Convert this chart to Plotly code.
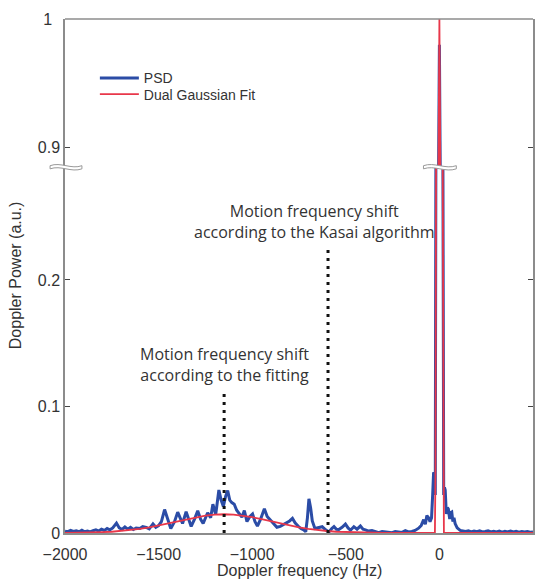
import plotly.graph_objects as go

# ---------------- data ----------------
psd_freq = [-2000, -1985, -1970, -1955, -1940, -1925, -1910, -1895, -1880, -1865, -1850, -1835, -1820,
            -1805, -1790, -1775, -1760, -1745, -1725, -1710, -1695, -1680, -1665, -1650, -1635, -1620,
            -1600, -1585, -1566, -1550, -1530, -1515, -1500, -1485, -1468, -1452, -1435, -1415, -1398,
            -1385, -1372, -1353, -1340, -1326, -1308, -1291, -1276, -1262, -1238, -1222, -1210, -1195,
            -1178, -1166, -1154, -1142, -1131, -1120, -1109, -1096, -1083, -1069, -1055, -1042, -1028,
            -1012, -998, -985, -972, -955, -935, -920, -905, -885, -868, -850, -835, -820, -800, -785,
            -770, -755, -740, -725, -714, -705, -697, -688, -679, -665, -645, -626, -608, -590, -575,
            -563, -550, -537, -520, -502, -488, -475, -457, -440, -422, -408, -395, -378, -360, -342,
            -324, -306, -289, -271, -253, -236, -218, -200, -182, -165, -147, -130, -111, -97, -84,
            -75, -67, -58, -50, -42, -36, -31, -26, -22, -19, -5, 0, 5, 19, 23, 27,
            31, 37, 43, 48, 55, 61, 66, 72, 78, 84, 95, 111, 125, 140, 155, 170, 185, 200, 215, 230,
            245, 260, 275, 290, 305, 320, 335, 350, 365, 380, 395, 410, 425, 440, 455, 470, 485, 500]
psd_power = [0.0015, 0.001, 0.002, 0.0012, 0.0018, 0.001, 0.0022, 0.001, 0.0015, 0.0008, 0.0018, 0.0025,
             0.0015, 0.003, 0.002, 0.0035, 0.0025, 0.004, 0.0078, 0.004, 0.0028, 0.0048, 0.003, 0.0045,
             0.0028, 0.004, 0.0036, 0.005, 0.0044, 0.0032, 0.0072, 0.0045, 0.0058, 0.009, 0.0185, 0.011,
             0.0035, 0.009, 0.0165, 0.012, 0.0075, 0.0168, 0.011, 0.0052, 0.011, 0.0175, 0.011, 0.0075,
             0.016, 0.012, 0.0228, 0.0145, 0.034, 0.026, 0.021, 0.029, 0.0335, 0.026, 0.024, 0.0228,
             0.018, 0.0155, 0.0125, 0.0178, 0.009, 0.013, 0.015, 0.009, 0.0055, 0.011, 0.0192, 0.013,
             0.0105, 0.0078, 0.0045, 0.0052, 0.0065, 0.0078, 0.0095, 0.0115, 0.0078, 0.0055, 0.0035,
             0.0025, 0.001, 0.012, 0.027, 0.02, 0.0095, 0.0036, 0.0045, 0.005, 0.0025, 0.0008, 0.0035,
             0.005, 0.003, 0.0028, 0.0045, 0.007, 0.004, 0.0022, 0.005, 0.003, 0.0055, 0.003, 0.0025,
             0.0015, 0.002, 0.001, 0.0003, 0.0012, 0.001, 0.0005, 0.0003, 0.0012, 0.0009, 0.0005, 0.0018,
             0.0008, 0.0012, 0.002, 0.0038, 0.006, 0.0105, 0.007, 0.0138, 0.012, 0.009, 0.012, 0.03,
             0.048, 0.046, 0.03, 0.28, 0.87, 0.98, 0.87, 0.28, 0.03, 0.036,
             0.034, 0.015, 0.02, 0.019, 0.011, 0.016, 0.0165, 0.009, 0.012, 0.0075, 0.004, 0.002, 0.0015,
             0.0012, 0.0018, 0.0008, 0.0015, 0.001, 0.0017, 0.0008, 0.0012, 0.0018, 0.0008, 0.0014,
             0.0009, 0.0015, 0.0007, 0.0014, 0.0009, 0.0016, 0.0008, 0.0013, 0.0007, 0.0012, 0.0008,
             0.0011, 0.0006, 0.0008]

fit_freq = [-2000, -1950, -1900, -1850, -1800, -1750, -1700, -1650, -1600, -1550, -1500, -1450, -1400,
            -1350, -1300, -1250, -1200, -1150, -1100, -1050, -1000, -950, -900, -850, -800, -750, -700,
            -650, -600, -550, -500, -450, -400, -350, -300, -200, -100, -40, -24, -21, -18, -5, 0,
            5, 18, 21, 24, 40, 100, 300, 500]
fit_power = [0.0001, 0.00013, 0.0002, 0.0004, 0.0007, 0.001, 0.0016, 0.0023, 0.0033, 0.0045, 0.006,
             0.0076, 0.0093, 0.011, 0.0125, 0.0137, 0.0145, 0.0148, 0.0145, 0.0137, 0.0125, 0.011,
             0.0093, 0.0076, 0.006, 0.0045, 0.0033, 0.0023, 0.0016, 0.001, 0.0007, 0.0004, 0.0002,
             0.00013, 0.0001, 0.0, 0.0, 0.0, 0.0, 0.05, 0.28, 0.88, 1.0, 0.88, 0.28, 0.05, 0.0,
             0.0, 0.0, 0.0, 0.0]

marker_freq = [-1150, -595]          # dotted markers: fitting, Kasai
marker_top = [0.113, 0.227]
marker_text = ["Motion frequency shift<br>according to the fitting",
               "Motion frequency shift<br>according to the Kasai algorithm"]
marker_text_x = [-1150, -665]
marker_text_y = [0.133, 0.246]

x_ticks = [-2000, -1500, -1000, -500, 0, 500]
x_ticktext = ["\u22122000", "\u22121500", "\u22121000", "\u2212500", "0", "500"]
y_low_ticks = [0, 0.1, 0.2]
y_low_text = ["0", "0.1", "0.2"]
y_up_ticks = [0.9, 1.0]
y_up_text = ["0.9", "1\u2002"]

low_range = [0, 0.289]
up_range = [0.8846, 1.0]

# ---------------- layout geometry ----------------
W, H = 546, 584
ML, MR, MT, MB = 65, 11, 13, 51
PW, PH = W - ML - MR, H - MT - MB
BREAK_PY = 163
split = (H - MB - BREAK_PY) / PH

BLUE = "#2b4ca6"
RED = "#e8374a"
GRAY = "#8c8c8c"
TXT = "#333333"


def X(px):
    return (px - ML) / PW


def Y(py):
    return (H - MB - py) / PH


fig = go.Figure()
for ax in ["y", "y2"]:
    fig.add_trace(go.Scatter(x=psd_freq, y=psd_power, mode="lines", name="PSD",
                             line=dict(color=BLUE, width=3), yaxis=ax,
                             showlegend=(ax == "y2"), legend="legend"))
for ax in ["y", "y2"]:
    fig.add_trace(go.Scatter(x=fit_freq, y=fit_power, mode="lines", name="Dual Gaussian Fit",
                             line=dict(color=RED, width=1.8), yaxis=ax,
                             showlegend=(ax == "y2"), legend="legend2"))
for f, top in zip(marker_freq, marker_top):
    fig.add_trace(go.Scatter(x=[f, f], y=[0, top], mode="lines", showlegend=False,
                             line=dict(color="#111111", width=3, dash="3px,5px"), yaxis="y"))

for t, tx, ty in zip(marker_text, marker_text_x, marker_text_y):
    fig.add_annotation(x=tx, y=ty, xref="x", yref="y", text=t, showarrow=False,
                       font=dict(family="Open Sans", size=16, color=TXT), align="center")


def wave(x0, w, cy):
    a, h = 4, 1.6
    return (f"M {X(x0)},{Y(cy - h)} C {X(x0 + w / 3)},{Y(cy - h - a)} {X(x0 + 2 * w / 3)},{Y(cy - h + a)} "
            f"{X(x0 + w)},{Y(cy - h)} L {X(x0 + w)},{Y(cy + h)} "
            f"C {X(x0 + 2 * w / 3)},{Y(cy + h + a)} {X(x0 + w / 3)},{Y(cy + h - a)} {X(x0)},{Y(cy + h)} Z")


shapes = [dict(type="line", xref="paper", yref="paper", x0=0, x1=1, y0=1, y1=1,
               line=dict(color=GRAY, width=1.5), layer="above")]
for x0, w in [(50, 32), (425, 33)]:
    shapes.append(dict(type="path", xref="paper", yref="paper", path=wave(x0, w, BREAK_PY),
                       fillcolor="white", line=dict(color="#999999", width=1), layer="above"))

# axis titles
fig.add_annotation(x=0.5, y=Y(571), xref="paper", yref="paper", text="Doppler frequency (Hz)",
                   showarrow=False, font=dict(family="Liberation Sans", size=16, color=TXT),
                   yanchor="middle")
fig.add_annotation(x=X(15), y=Y(272), xref="paper", yref="paper", text="Doppler Power (a.u.)",
                   showarrow=False, textangle=-90, font=dict(family="Liberation Sans", size=16, color=TXT),
                   xanchor="center", yanchor="middle")

tickfont = dict(family="Liberation Sans", size=16, color=TXT)
legfont = dict(family="Liberation Sans", size=14, color=TXT)
yax_common = dict(ticks="inside", ticklen=5, tickcolor="#444444", mirror="ticks", showline=True,
                  linecolor=GRAY, linewidth=1.5, showgrid=False, zeroline=False, tickfont=tickfont,
                  anchor="x", layer="below traces")
fig.update_layout(
    width=W, height=H,
    margin=dict(l=ML, r=MR, t=MT, b=MB, pad=0),
    paper_bgcolor="white", plot_bgcolor="white",
    shapes=shapes,
    xaxis=dict(range=[-2000, 500], tickvals=x_ticks, ticktext=x_ticktext, ticks="",
               showline=True, linecolor=GRAY, linewidth=1.5, mirror=False, layer="below traces",
               showgrid=False, zeroline=False, tickfont=tickfont, anchor="y",
               ticklabelstandoff=6),
    yaxis=dict(domain=[0, split], range=low_range, tickvals=y_low_ticks, ticktext=y_low_text,
               **yax_common),
    yaxis2=dict(domain=[split, 1], range=up_range, tickvals=y_up_ticks, ticktext=y_up_text,
                **yax_common),
    legend=dict(x=X(95), y=Y(73), xanchor="left", yanchor="middle", bgcolor="rgba(0,0,0,0)",
                font=legfont, itemwidth=39),
    legend2=dict(x=X(95), y=Y(89.5), xanchor="left", yanchor="middle", bgcolor="rgba(0,0,0,0)",
                 font=legfont, itemwidth=39),
    showlegend=True,
)

fig.write_html("out.html", post_script="document.body.style.margin='0px';",
               config={"displayModeBar": False})
